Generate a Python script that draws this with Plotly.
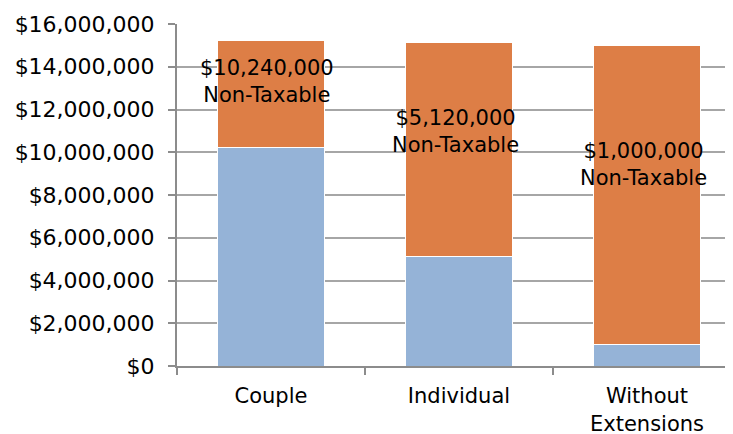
import plotly.graph_objects as go

categories = ["Couple", "Individual", "Without<br>Extensions"]
non_taxable = [10240000, 5120000, 1000000]
taxable = [5000000, 10000000, 14000000]
label_texts = ["$10,240,000<br>Non-Taxable", "$5,120,000<br>Non-Taxable", "$1,000,000<br>Non-Taxable"]
label_y = [13300000, 10950000, 9450000]
y_ticks = [0, 2000000, 4000000, 6000000, 8000000, 10000000, 12000000, 14000000, 16000000]

FONT = "DejaVu Sans"

fig = go.Figure()
fig.add_trace(go.Bar(x=categories, y=non_taxable, marker=dict(color="#95B3D7", line=dict(color="white", width=1)), name="Non-Taxable"))
fig.add_trace(go.Bar(x=categories, y=taxable, marker=dict(color="#DD7E46", line=dict(color="white", width=1)), name="Taxable"))

for c, t, yv in zip(categories, label_texts, label_y):
    fig.add_annotation(x=c, y=yv, text=t, showarrow=False, xshift=-4,
                       font=dict(family=FONT, size=21, color="black"), align="center")

fig.update_layout(
    barmode="stack",
    bargap=0.435,
    width=733, height=434,
    margin=dict(l=169, r=0, t=16, b=76),
    paper_bgcolor="white", plot_bgcolor="white",
    showlegend=False,
    font=dict(family=FONT, size=20, color="black"),
    xaxis=dict(range=[-0.5, 2.5], showgrid=False, showline=True, linecolor="#8C8C8C", linewidth=2,
               ticks="outside", tickson="boundaries", ticklen=7, tickcolor="#8C8C8C", tickwidth=2,
               tickfont=dict(size=21), ticklabelstandoff=10, automargin=False),
    yaxis=dict(range=[0, 16000000], tickvals=y_ticks, tickformat="$,.0f",
               showgrid=True, gridcolor="#A6A6A6", gridwidth=2,
               showline=True, linecolor="#8C8C8C", linewidth=2,
               ticks="outside", ticklen=7, tickcolor="#8C8C8C", tickwidth=2,
               zeroline=False, tickfont=dict(size=22), ticklabelstandoff=9, automargin=False),
)
fig.write_html("out.html")
